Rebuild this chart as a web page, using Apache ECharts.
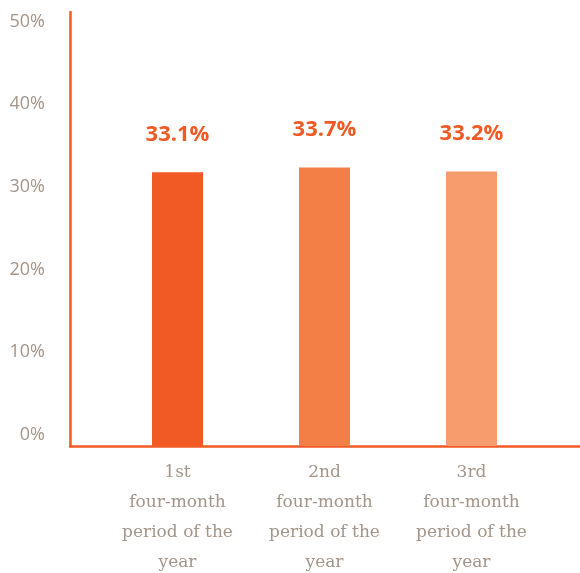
<!DOCTYPE html>
<html>
<head>
<meta charset="UTF-8">
<title>four-month periods</title>
<style>
    html,body{margin:0;padding:0;background:#fff;}
    #chart{width:580px;height:573px;}
</style>
</head>
<body>
<div id="chart"></div>
<script src="https://cdn.jsdelivr.net/npm/echarts@6/dist/echarts.min.js"></script>
<script>
    let categories = ['1st\nfour-month\nperiod of the\nyear', '2nd\nfour-month\nperiod of the\nyear', '3rd\nfour-month\nperiod of the\nyear'];
    let values = [33.1, 33.7, 33.2];
    let barColors = ['#f15a24', '#f47f46', '#f69c6d'];
    let yTicks = [0, 10, 20, 30, 40, 50];

    let orange = '#f15a24';
    let grey = '#a39589';

    let myChart = echarts.init(document.getElementById('chart'));
    let option = {
        animation: false,
        grid: [
            {left: 70, right: 0, top: 12, bottom: 127, outerBoundsMode: 'none', containLabel: false},
            {left: 104, width: 441, top: 12, bottom: 127, outerBoundsMode: 'none', containLabel: false}
        ],
        xAxis: [
            {type: 'category', gridIndex: 0, data: [''],
                axisLine: {lineStyle: {color: orange, width: 2.5}},
                axisTick: {show: false}, axisLabel: {show: false}},
            {type: 'category', gridIndex: 1, data: categories,
                axisLine: {show: false}, axisTick: {show: false},
                axisLabel: {color: grey, fontFamily: 'DejaVu Serif', fontSize: 17, lineHeight: 30, margin: 12}}
        ],
        yAxis: [
            {type: 'value', gridIndex: 0, min: 0, max: 52.5, interval: 10,
                axisLine: {show: true, lineStyle: {color: orange, width: 2.5}},
                axisTick: {show: false}, splitLine: {show: false},
                axisLabel: {color: grey, fontFamily: 'Open Sans', fontSize: 18, margin: 25,
                    verticalAlign: 'bottom', lineHeight: 22,
                    formatter: function (v) { return yTicks.indexOf(v) >= 0 ? v + '%' : ''; }}},
            {type: 'value', gridIndex: 1, min: 0, max: 52.5, interval: 10,
                axisLine: {show: false}, axisTick: {show: false},
                splitLine: {show: false}, axisLabel: {show: false}}
        ],
        series: [{
            type: 'bar',
            xAxisIndex: 1,
            yAxisIndex: 1,
            barWidth: 51,
            data: values.map(function (v, i) {
                return {value: v, itemStyle: {color: barColors[i]}};
            }),
            label: {
                show: true, position: 'top', distance: 27,
                color: orange, fontFamily: 'Open Sans', fontWeight: 'bold', fontSize: 22,
                formatter: function (p) { return p.value.toFixed(1) + '%'; }
            }
        }]
    };
    myChart.setOption(option);
</script>
</body>
</html>
